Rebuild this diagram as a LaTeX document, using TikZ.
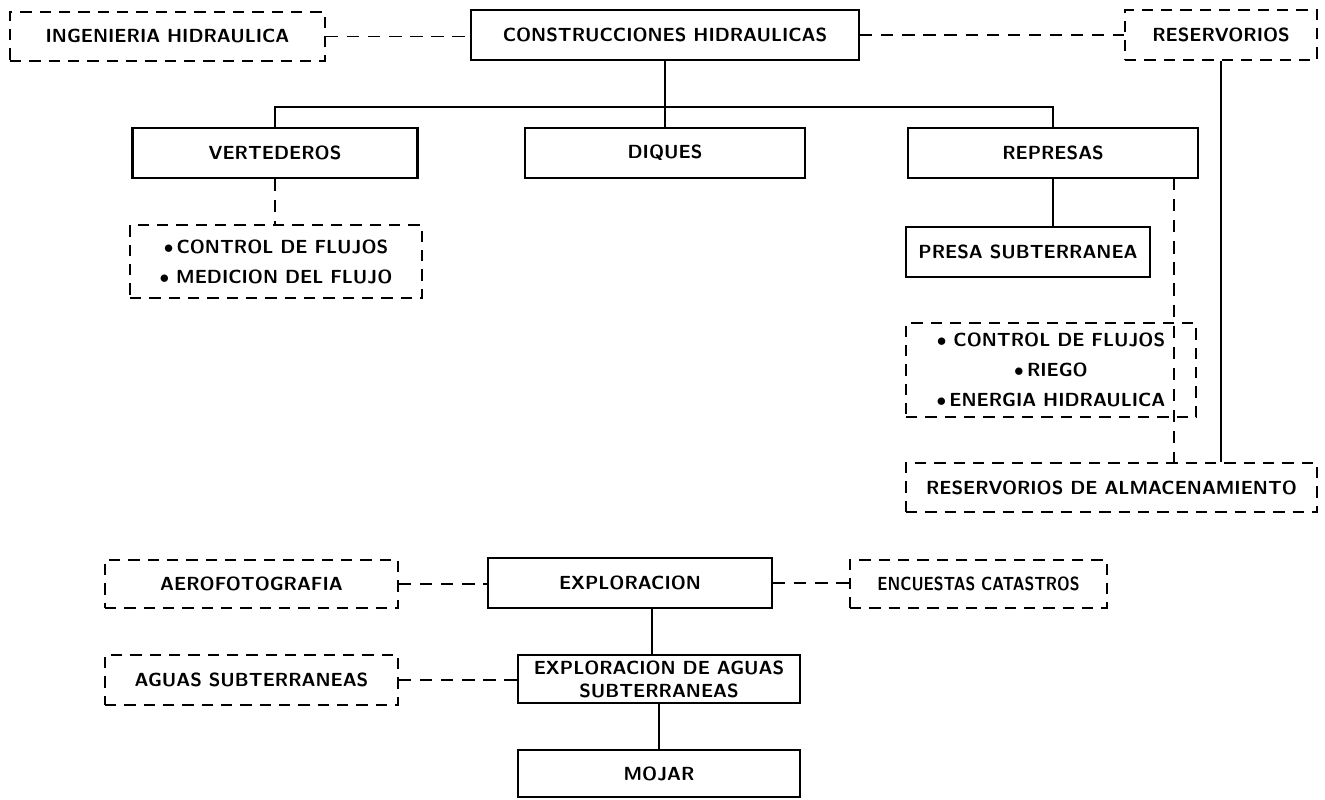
\documentclass[tikz,border=0pt]{standalone}
\usepackage{tikz}
\tikzstyle{solidbox}=[
        draw, line width=1.2pt, minimum height=1cm, inner sep=2pt
]
\tikzstyle{dashbox}=[
        draw, line width=1.1pt, dash pattern=on 6.5pt off 4.5pt, minimum height=1cm, inner sep=2pt
]
\tikzstyle{link}=[
        line width=0.8pt
]
\tikzstyle{dashlink}=[
        line width=1pt, dash pattern=on 7pt off 5pt
]

\begin{document}
\begin{tikzpicture}[font=\sffamily\bfseries\fontsize{10.8}{13}\selectfont]
                        \useasboundingbox (0,0) rectangle (26.5,-15.98);

                        \node[dashbox, minimum width=6.3cm, minimum height=0.98cm] (ing) at (3.35,-0.73) {INGENIERIA HIDRAULICA};
                        \node[solidbox, minimum width=7.76cm] (cons) at (13.3,-0.70) {CONSTRUCCIONES HIDRAULICAS};
                        \node[dashbox, minimum width=3.84cm] (res) at (24.42,-0.70) {RESERVORIOS};

                        \node[solidbox, minimum width=5.7cm] (vert) at (5.5,-3.06) {VERTEDEROS};
                        \node[solidbox, minimum width=5.6cm] (diq) at (13.3,-3.06) {DIQUES};
                        \node[solidbox, minimum width=5.8cm] (rep) at (21.06,-3.06) {REPRESAS};

                        \node[dashbox, minimum width=5.84cm, minimum height=1.46cm, align=center] (flu) at (5.52,-5.23)
                            {$\bullet$\,CONTROL DE FLUJOS\\[4pt] $\bullet$\ MEDICION DEL FLUJO};
                        \node[solidbox, minimum width=4.88cm] (presa) at (20.56,-5.04) {PRESA SUBTERRANEA};
                        \node[dashbox, minimum width=5.8cm, minimum height=1.88cm, align=center] (usos) at (21.02,-7.40)
                            {$\bullet$\ CONTROL DE FLUJOS\\[4pt] $\bullet$\,RIEGO\\[4pt] $\bullet$\,ENERGIA HIDRAULICA};
                        \node[dashbox, minimum width=8.22cm, minimum height=0.98cm] (alm) at (22.23,-9.75) {RESERVORIOS DE ALMACENAMIENTO};

                        \node[dashbox, minimum width=5.86cm, minimum height=0.96cm] (aero) at (5.03,-11.68) {AEROFOTOGRAFIA};
                        \node[solidbox, minimum width=5.68cm] (expl) at (12.6,-11.66) {EXPLORACION};
                        \node[dashbox, minimum width=5.14cm, minimum height=0.96cm] (enc) at (19.57,-11.68) {\scalebox{0.84}[1]{ENCUESTAS CATASTROS}};
                        \node[dashbox, minimum width=5.86cm] (agua) at (5.03,-13.6) {AGUAS SUBTERRANEAS};
                        \node[solidbox, minimum width=5.64cm, minimum height=0.96cm, align=center] (expag) at (13.18,-13.58)
                            {EXPLORACION DE AGUAS\\ SUBTERRANEAS};
                        \node[solidbox, minimum width=5.64cm, minimum height=0.94cm] (moj) at (13.18,-15.47) {MOJAR};

                        \coordinate (bus) at (13.3,-2.14);
                        \coordinate (repdash) at (23.48,-3.56);
                        \coordinate (explout) at (13.04,-12.16);

                        \draw[dashlink] (ing.east) -- (ing.east -| cons.west);
                        \draw[dashlink] (cons.east) -- (cons.east -| res.west);
                        \draw[link] (cons.south) -- (diq.north);
                        \draw[link] (vert.north) |- (bus) -| (rep.north);
                        \draw[dashlink] (vert.south) -- (vert.south |- flu.north);
                        \draw[link] (rep.south) -- (rep.south |- presa.north);
                        \draw[dashlink] (repdash) -- (repdash |- alm.north);
                        \draw[link] (res.south) -- (res.south |- alm.north);

                        \draw[dashlink] (aero.east) -- (aero.east -| expl.west);
                        \draw[dashlink] (expl.east) -- (expl.east -| enc.west);
                        \draw[link] (explout) -- (explout |- expag.north);
                        \draw[dashlink] (agua.east) -- (agua.east -| expag.west);
                        \draw[link] (expag.south) -- (expag.south |- moj.north);

                    \end{tikzpicture}
\end{document}
